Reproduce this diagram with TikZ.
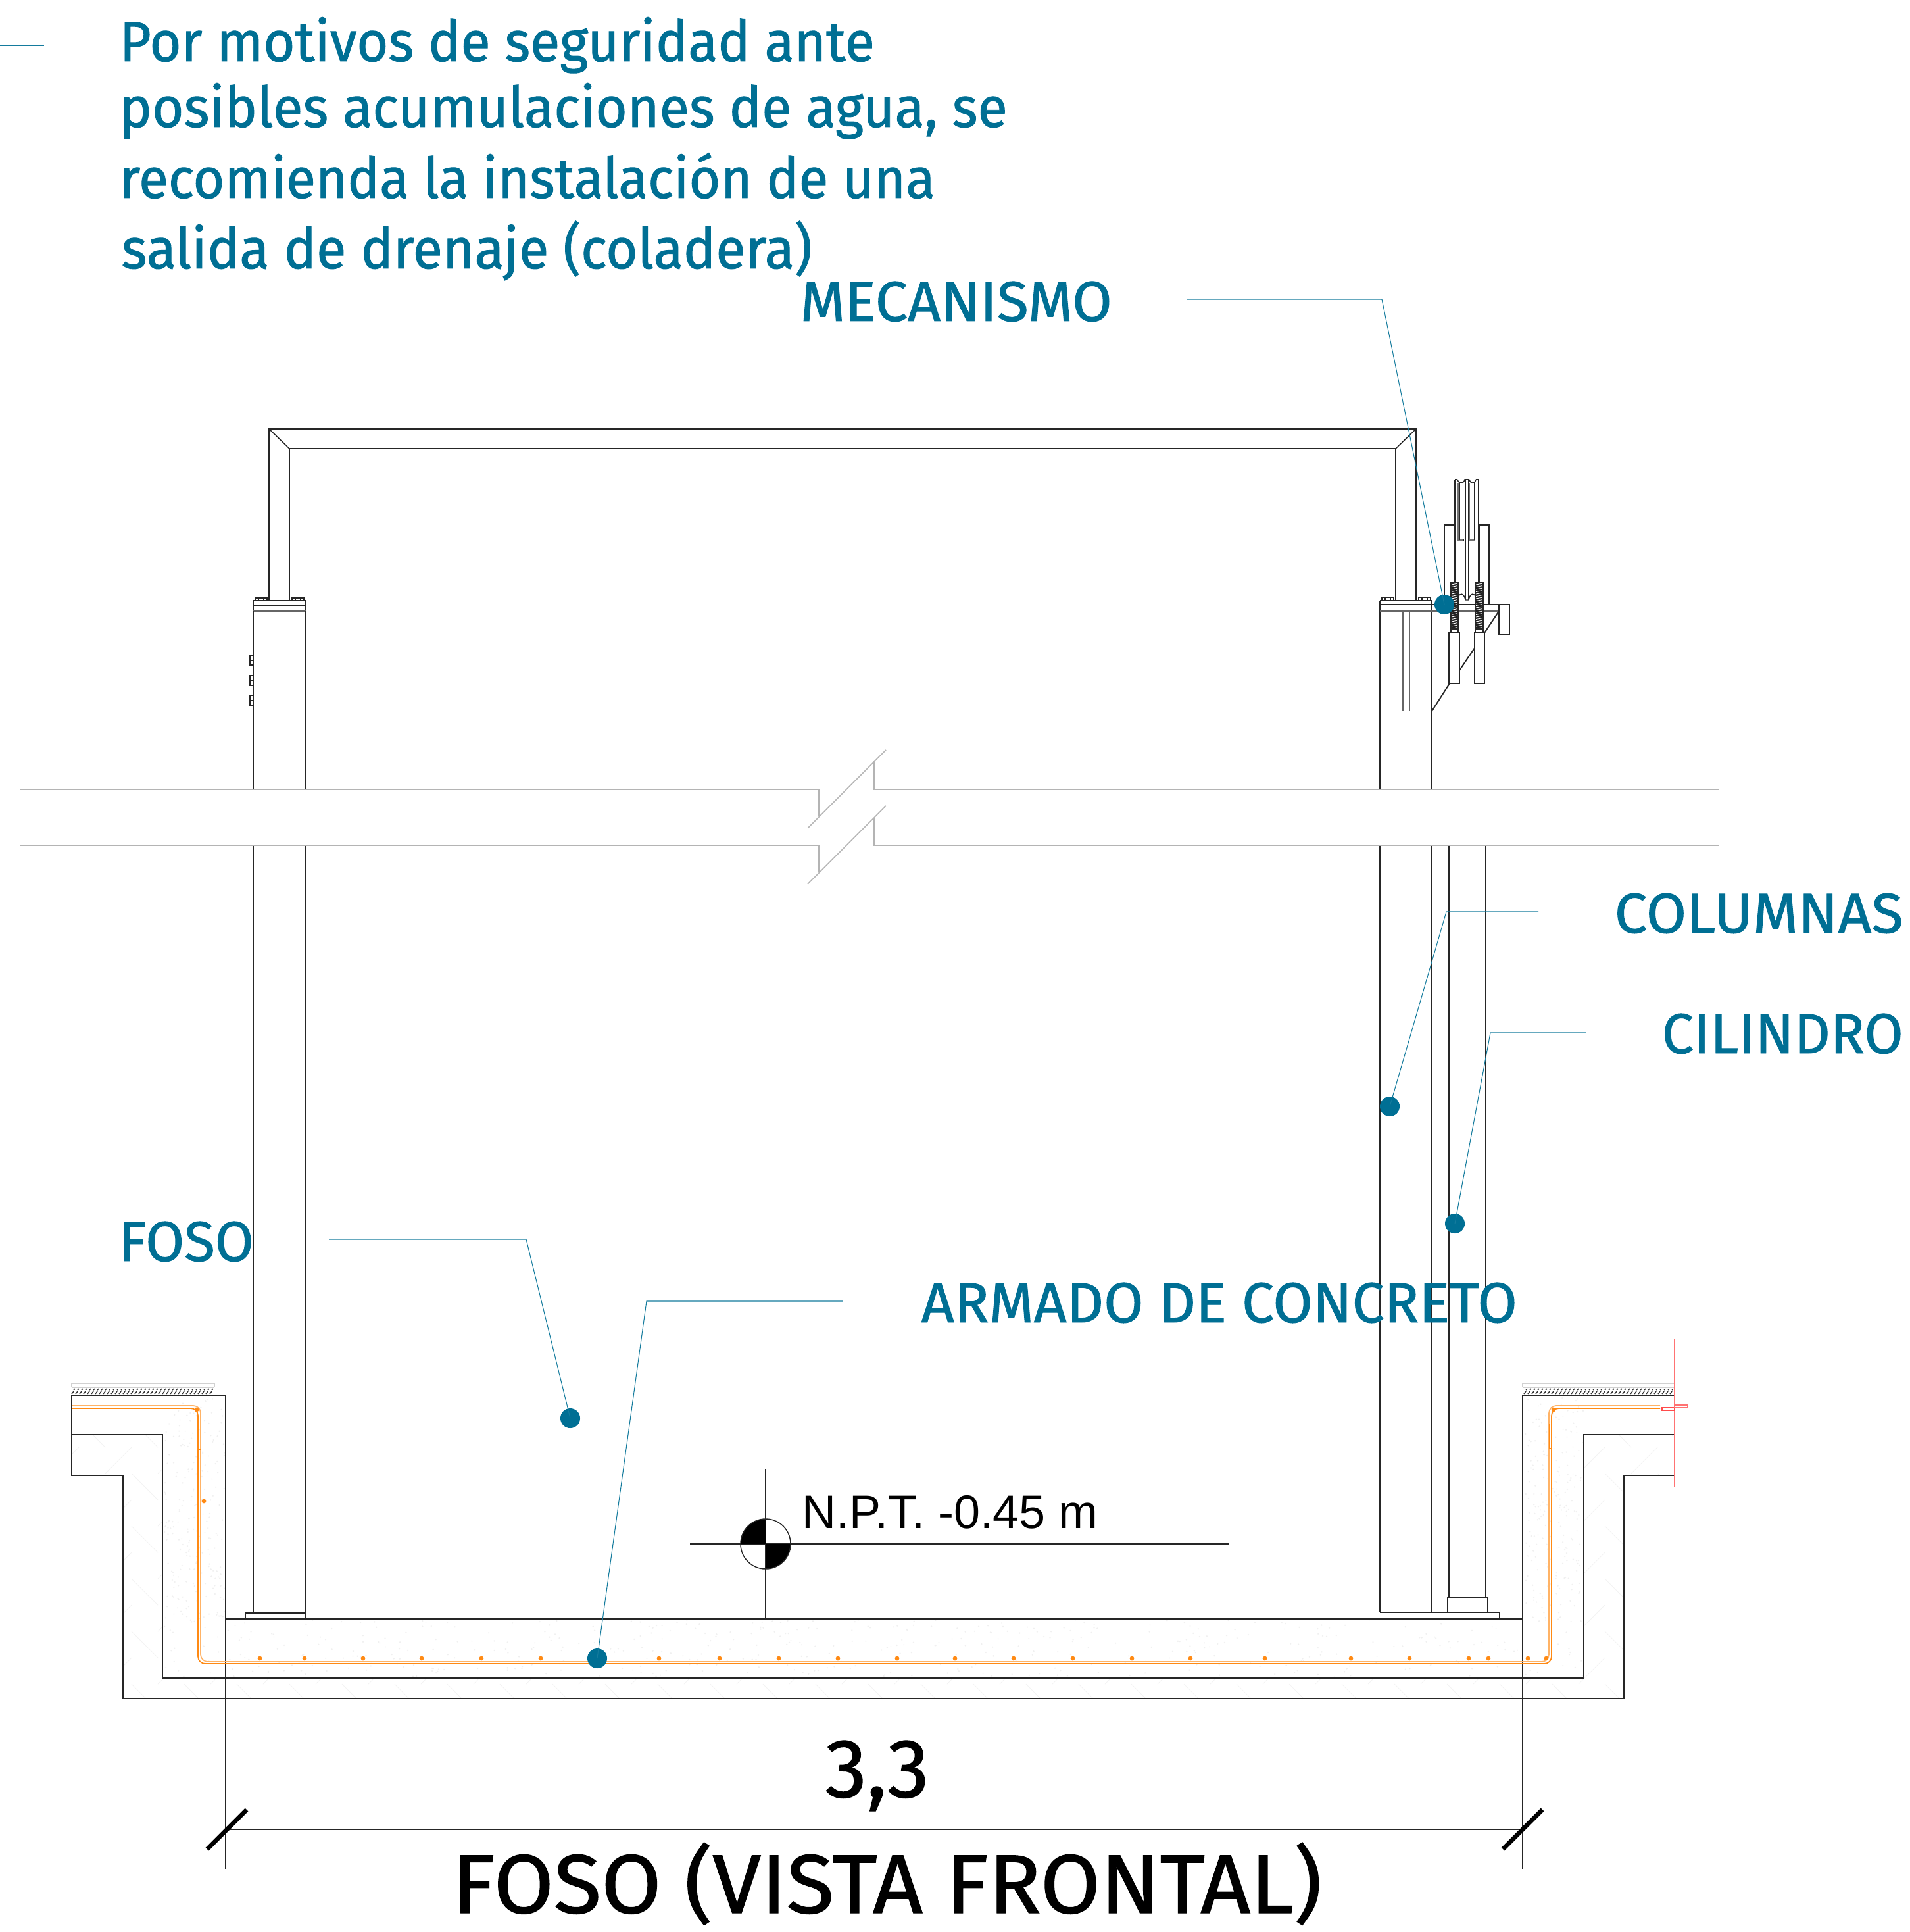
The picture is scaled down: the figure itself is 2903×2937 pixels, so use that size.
\documentclass[tikz,border=0pt]{standalone}
\usepackage{fontspec}
\setmainfont{Fira Sans}
\newfontfamily\heavyf[FakeBold=1.1]{Fira Sans}
\newfontfamily\arialf{Liberation Sans}
\definecolor{bluel}{HTML}{006F94}
\definecolor{orangeb}{HTML}{FF8A14}
\definecolor{breakg}{HTML}{B4B4B4}
\newdimen\pxu \pxu=0.01cm
\newcommand\fitw[2]{\resizebox{#1\pxu}{\height}{#2}}
\newcommand\bluefont{\heavyf\fontsize{24.4}{24.4}\selectfont}
\newcommand\blackfont{\heavyf\fontsize{36}{36}\selectfont}
\tikzset{
  ln/.style={line width=0.42pt,draw=black!85},
  brk/.style={line width=0.42pt,draw=breakg},
  lead/.style={line width=0.3pt,draw=bluel!92},
  bt/.style={inner sep=0pt,anchor=base west,text=bluel},
  kt/.style={inner sep=0pt,anchor=base west,text=black},
  dotb/.style={circle,fill=bluel,inner sep=0pt,minimum size=0.3cm},
  rebar/.style={line width=0.5pt,draw=orangeb,rounded corners=0.11cm},
  tickd/.style={line width=1.9pt,draw=black},
}
\begin{document}
\begin{tikzpicture}[x=0.01cm,y=-0.01cm]
\useasboundingbox (0,0) rectangle (2903,2937);
\fill[white] (0,0) rectangle (2903,2937);
% faint fills
\begin{scope}
\clip (109,2181)--(247,2181)--(247,2551)--(2408,2551)--(2408,2181)--(2546,2181)--(2546,2243)--(2469,2243)--(2469,2582)--(187,2582)--(187,2243)--(109,2243)--cycle;
\foreach \i in {0,80,...,2560}{
  \foreach \j in {2160,2240,...,2600}{
    \draw[line width=0.2pt,black!5] (\i,\j)--++(40,-40) (\i+40,\j)--++(40,40);
  }
}
\end{scope}
\pgfmathsetseed{7}
\begin{scope}
\clip (109,2121)--(343,2121)--(343,2461)--(2315,2461)--(2315,2121)--(2546,2121)--(2546,2181)--(2408,2181)--(2408,2551)--(247,2551)--(247,2181)--(109,2181)--cycle;
\foreach \k in {1,...,500}{
  \pgfmathsetmacro\rx{250+rnd*2160}
  \pgfmathsetmacro\ry{2461+rnd*90}
  \fill[black!6] (\rx,\ry) circle[radius=0.012cm];
}
\foreach \k in {1,...,220}{
  \pgfmathsetmacro\rx{250+rnd*92}
  \pgfmathsetmacro\ry{2125+rnd*340}
  \fill[black!6] (\rx,\ry) circle[radius=0.012cm];
  \pgfmathsetmacro\rxb{2318+rnd*90}
  \pgfmathsetmacro\ryb{2125+rnd*340}
  \fill[black!6] (\rxb,\ryb) circle[radius=0.012cm];
}
\end{scope}
% frame
\draw[ln] (409,913)--(409,652)--(2153,652)--(2153,913);
\draw[ln] (440,913)--(440,682)--(2122,682)--(2122,913);
\draw[ln] (409,652)--(440,682) (2153,652)--(2122,682);
% left column head
\draw[ln] (385,913) rectangle (465,920);
\draw[ln] (385,920)--(385,929) (465,920)--(465,929);
\draw[ln,line width=0.7pt,draw=black!60] (385,929)--(465,929);
\draw[ln] (385,929)--(385,1200) (465,929)--(465,1200);
\foreach \a in {388,444}{
  \draw[ln] (\a,913)--(\a,909)--(\a+18,909)--(\a+18,913);
  \draw[ln] (\a+5,909)--(\a+5,913) (\a+13,909)--(\a+13,913);
}
\foreach \a in {996,1027,1057}{
  \draw[ln] (385,\a)--(380,\a)--(380,\a+15)--(385,\a+15) (380,\a+8)--(385,\a+8);
}
\draw[ln] (385,1285)--(385,2452) (465,1285)--(465,2452);
\draw[ln] (373,2461)--(373,2452)--(465,2452)--(465,2461);
% right column head
\draw[ln] (2098,913)--(2177,913)--(2177,919);
\draw[ln] (2098,913)--(2098,1200) (2177,919)--(2177,1200);
\draw[ln] (2098,919)--(2279,919);
\draw[ln,line width=0.7pt,draw=black!60] (2098,929)--(2279,929);
\foreach \a in {2101,2157}{
  \draw[ln] (\a,913)--(\a,908)--(\a+18,908)--(\a+18,913);
  \draw[ln] (\a+5,908)--(\a+5,913) (\a+13,908)--(\a+13,913);
}
\draw[ln,draw=black!60] (2133,929)--(2133,1081) (2143,929)--(2143,1081);
\draw[ln,line width=0.55pt] (2177,1081)--(2204,1039);
\draw[ln] (2203,962) rectangle (2219,1039);
\draw[ln] (2242,962) rectangle (2257,1039);
\draw[ln,line width=0.55pt] (2219,1019)--(2242,985) (2257,962)--(2279,929);
\draw[ln] (2279,919) rectangle (2295,965);
\draw[ln] (2212,919)--(2196,919)--(2196,798)--(2211,798);
\draw[ln] (2249,798)--(2264,798)--(2264,919)--(2249,919);
\draw[ln,line width=0.6pt] (2211,798)--(2211,886) (2249,798)--(2249,886);
\draw[ln] (2212,729)--(2212,886) (2248,729)--(2248,886);
\draw[ln] (2212,729)--(2216,729) (2227,729)--(2234,729) (2244,729)--(2248,729);
\draw[ln] (2216,729) .. controls (2218,736) and (2225,736) .. (2227,729);
\draw[ln] (2234,729) .. controls (2236,736) and (2242,736) .. (2244,729);
\draw[ln,draw=black!55,line width=0.55pt] (2217,734)--(2217,821)--(2224,821) (2226,729)--(2227,729);
\draw[ln] (2219,734)--(2219,821) (2224,821)--(2226,821);
\draw[ln,draw=black!55,line width=0.55pt] (2234,734)--(2234,821)--(2242,821);
\draw[ln] (2242,734)--(2242,821) (2228,729)--(2228,912) (2233,729)--(2233,912);
\draw[ln] (2217,908) .. controls (2219,901) and (2226,901) .. (2228,912) -- (2233,912);
\draw[ln] (2233,912) .. controls (2235,901) and (2242,901) .. (2244,908);
\foreach \c/\d in {2206/2217,2243/2255}{
  \fill[black!88] (\c,886) rectangle (\d,956);
  \foreach \s in {888,891.5,...,956}{\draw[white,line width=0.25pt] (\c+1,\s+1)--(\d-1,\s-1);}
  \draw[ln] (\c,886) rectangle (\d,956);
  \draw[ln] (\c,956)--(\c,962) (\d,956)--(\d,962);
}
\draw[ln] (2098,1285)--(2098,2451) (2177,1285)--(2177,2451);
\draw[ln] (2203,1285)--(2203,2429) (2259,1285)--(2259,2429);
\draw[ln] (2201,2451)--(2201,2429)--(2262,2429)--(2262,2451);
\draw[ln] (2098,2451)--(2280,2451)--(2280,2461);
% break lines
\draw[brk] (30,1200)--(1245,1200)--(1245,1241);
\draw[brk] (1329,1157)--(1329,1200)--(2613,1200);
\draw[brk] (30,1285)--(1245,1285)--(1245,1326);
\draw[brk] (1329,1243)--(1329,1285)--(2613,1285);
\draw[brk] (1228,1259)--(1347,1140);
\draw[brk] (1228,1344)--(1347,1225);
% foundation
\draw[ln] (109,2121)--(109,2243)--(187,2243)--(187,2582)--(2469,2582)--(2469,2243)--(2546,2243)--(2546,2121)--(2315,2121);
\draw[ln] (109,2121)--(343,2121);
\draw[ln] (109,2181)--(247,2181)--(247,2551)--(2408,2551)--(2408,2181)--(2546,2181);
\draw[ln,line width=0.8pt] (247,2181)--(247,2283);
\draw[ln] (343,2461)--(2315,2461);
\draw[ln] (343,2121)--(343,2841) (2315,2121)--(2315,2841);
% ground finish
\draw[line width=0.4pt,black!18] (109,2109)--(109,2103)--(326,2103)--(326,2109);
\draw[line width=0.4pt,black!18] (109,2109)--(326,2109);
\draw[line width=0.4pt,black!18] (2315,2109)--(2315,2103)--(2546,2103) (2315,2109)--(2546,2109);
\foreach \i in {109,115,...,320}{
  \draw[line width=0.4pt,black!80] (\i,2119)--(\i+3,2115) (\i+3,2113)--(\i+5,2111);
}
\foreach \i in {2317,2323,...,2540}{
  \draw[line width=0.4pt,black!80] (\i,2119)--(\i+3,2115) (\i+3,2113)--(\i+5,2111);
}
% rebar
\draw[rebar,draw=orangeb!65] (109,2137)--(305,2137)--(305,2526)--(2355,2526)--(2355,2137)--(2524,2137);
\draw[rebar] (109,2141)--(301,2141)--(301,2529)--(2359,2529)--(2359,2141)--(2524,2141);
\draw[line width=0.4pt,draw=orangeb] (301,2183)--(301,2203)--(305,2203);
\draw[line width=0.3pt,draw=orangeb] (2355,2165)--(2355,2202)--(2359,2202);
\foreach \i in {395,463,552,641,732,822,910,1002,1094,1184,1274,1364,1452,1541,1631,1721,1810,1923,2054,2143,2233,2263,2323,2351}{
  \fill[orangeb] (\i,2521) circle[radius=0.034cm];
}
\fill[orangeb] (299,2143) circle[radius=0.034cm];
\fill[orangeb] (310,2282) circle[radius=0.034cm];
\fill[orangeb] (2362,2143) circle[radius=0.034cm];
% red marks
\draw[line width=0.5pt,draw=red!55] (2546,2036)--(2546,2260);
\draw[line width=0.4pt,draw=red!70] (2527,2140) rectangle (2546,2144);
\draw[line width=0.4pt,draw=red!55] (2546,2136) rectangle (2566,2140);
% level
\draw[ln] (1164,2233)--(1164,2461);
\draw[ln] (1049,2347)--(1869,2347);
\fill[black] (1164,2347)--(1126,2347) arc[start angle=180,end angle=90,radius=0.38cm]--cycle;
\fill[black] (1164,2347)--(1202,2347) arc[start angle=0,end angle=-90,radius=0.38cm]--cycle;
\draw[ln] (1164,2347) circle[radius=0.38cm];
\node[kt] (npt) at (1219,2323) {\arialf\fontsize{20.4}{20.4}\selectfont\fitw{450}{N.P.T. -0.45 m}};
% dimension
\draw[ln] (343,2781)--(2315,2781);
\draw[tickd] (315,2811)--(375,2751);
\draw[tickd] (2285,2811)--(2345,2751);
\node[kt] (dim) at (1254,2732) {\blackfont\fitw{158}{3,3}};
\node[kt] (title) at (687,2908) {\blackfont\fitw{1322}{FOSO (VISTA FRONTAL)}};
% notes
\node[bt] (n1) at (181,93) {\bluefont\fitw{1148}{Por motivos de seguridad ante}};
\node[bt] (n2) at (181,193) {\bluefont\fitw{1350}{posibles acumulaciones de agua, se}};
\node[bt] (n3) at (181,301) {\bluefont\fitw{1240}{recomienda la instalación de una}};
\node[bt] (n4) at (184,408) {\bluefont\fitw{1050}{salida de drenaje (coladera)}};
\coordinate (n0a) at (0,69);
\coordinate (n0b) at (67,69);
\draw[lead] (n0a)--(n0b);
% labels and leaders
\node[bt] (lm) at (1216,488) {\bluefont\fitw{474}{MECANISMO}};
\node[bt] (lc) at (2454,1418) {\bluefont\fitw{439}{COLUMNAS}};
\node[bt] (lk) at (2526,1601) {\bluefont\fitw{367}{CILINDRO}};
\node[bt] (lf) at (180,1917) {\bluefont\fitw{205}{FOSO}};
\node[bt] (la) at (1400,2010) {\bluefont\fitw{906}{ARMADO DE CONCRETO}};
\coordinate (am) at (1804,455); \coordinate (bm) at (2101,455);
\coordinate (ac) at (2339,1386); \coordinate (bc) at (2199,1386);
\coordinate (ak) at (2411,1570); \coordinate (bk) at (2266,1570);
\coordinate (af) at (500,1884); \coordinate (bf) at (800,1884);
\coordinate (aa) at (1281,1978); \coordinate (ba) at (983,1978);
\node[dotb] (dm) at (2196,919) {};
\node[dotb] (dc) at (2113,1682) {};
\node[dotb] (dk) at (2212,1860) {};
\node[dotb] (df) at (867,2156) {};
\node[dotb] (da) at (908,2521) {};
\draw[lead] (am)--(bm)--(dm.center);
\draw[lead] (ac)--(bc)--(dc.center);
\draw[lead] (ak)--(bk)--(dk.center);
\draw[lead] (af)--(bf)--(df.center);
\draw[lead] (aa)--(ba)--(da.center);
\end{tikzpicture}
\end{document}
